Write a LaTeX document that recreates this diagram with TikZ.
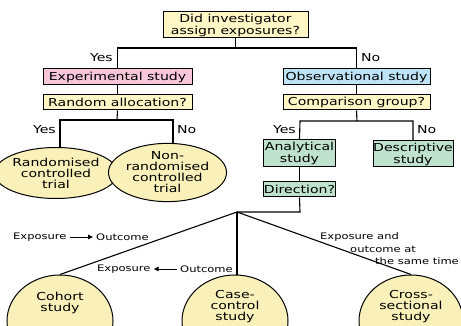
\documentclass[tikz,border=0pt]{standalone}
\usepackage{fontspec}
\setmainfont{DejaVu Sans}[FakeStretch=1.28]
\usetikzlibrary{shapes.geometric,arrows.meta}
\definecolor{boxyel}{HTML}{FFF8C6}
\definecolor{ellyel}{HTML}{F9F1B9}
\definecolor{boxpink}{HTML}{F7C6DA}
\definecolor{boxblue}{HTML}{BEE3F6}
\definecolor{boxgreen}{HTML}{BEE2CD}
\begin{document}
\begin{tikzpicture}[x=1pt,y=-1pt,
  box/.style={draw, line width=1pt, inner sep=0pt, align=center,
    font=\fontsize{11}{12}\selectfont},
  oval/.style={ellipse, draw, line width=1pt, fill=ellyel, inner sep=0pt,
    align=center, font=\fontsize{11}{11}\selectfont},
  lbl/.style={inner sep=0pt, font=\fontsize{11}{12}\selectfont},
  slbl/.style={inner sep=0pt, font=\fontsize{9}{12}\selectfont},
  conn/.style={line width=1.1pt},
  tip/.style={line width=0.9pt, shorten >=3pt, shorten <=3pt,
    -{Triangle[length=5pt,width=4.5pt]}}]
\useasboundingbox (0,0) rectangle (461,326);
\fill[white] (0,0) rectangle (461,326);

% boxes
\node[box, fill=boxyel, minimum width=145pt, minimum height=26pt] (q1) at (235.5,25)
  {Did investigator\\assign exposures?};
\node[box, fill=boxpink, minimum width=149pt, minimum height=16pt] (exp) at (117.5,77) {Experimental study};
\node[box, fill=boxblue, minimum width=147pt, minimum height=16pt] (obs) at (356.5,77) {Observational study};
\node[box, fill=boxyel, minimum width=149pt, minimum height=15pt] (rnd) at (117.5,102.5) {Random allocation?};
\node[box, fill=boxyel, minimum width=147pt, minimum height=15pt] (cmp) at (356.5,102.5) {Comparison group?};
\node[box, fill=boxgreen, minimum width=72pt, minimum height=27pt] (ana) at (299.5,153.5) {Analytical\\study};
\node[box, fill=boxgreen, minimum width=80pt, minimum height=26pt] (des) at (413,154) {Descriptive\\study};
\node[box, fill=boxgreen, minimum width=72pt, minimum height=15pt] (dir) at (299.5,189.5) {Direction?};

% ellipses
\node[oval, minimum width=95pt, minimum height=51pt] (rct) at (56,173) {Randomised\\controlled\\trial};
\node[oval, minimum width=93pt, minimum height=55pt] (nrct) at (167.5,172.5) {Non-\\randomised\\controlled\\trial};
\node[oval, minimum width=106pt, minimum height=92pt] (coh) at (60,321) {Cohort\\study\\[28pt]};
\node[oval, minimum width=106pt, minimum height=92pt] (cc) at (235,321) {Case-\\control\\study\\[20pt]};
\node[oval, minimum width=104pt, minimum height=92pt] (cs) at (411,321) {Cross-\\sectional\\study\\[20pt]};

% junctions
\coordinate (j1) at (235.5,48);
\coordinate (j2) at (117,120);
\coordinate (j2l) at (60,120);
\coordinate (j2r) at (173,120);
\coordinate (j3) at (357,121);
\coordinate (j3l) at (300,121);
\coordinate (j3r) at (413,121);
\coordinate (j4r) at (300,212);
\coordinate (j4) at (237,212);

% connectors
\draw[conn] (q1.south) -- (j1);
\draw[conn] (exp.north) |- (j1) -| (obs.north);
\draw[conn] (exp.south) -- (rnd.north);
\draw[conn] (obs.south) -- (cmp.north);
\draw[conn] (rnd.south) -- (j2);
\draw[conn] (j2l |- rct.north) -- (j2l) -- (j2r) -- (j2r |- nrct.north);
\draw[conn] (cmp.south) -- (j3);
\draw[conn] (ana.north) -- (j3l) -- (j3r) -- (des.north);
\draw[conn] (ana.south) -- (dir.north);
\draw[conn] (dir.south) -- (j4r) -- (j4);
\draw[conn] (j4) -- (coh.north);
\draw[conn] (j4) -- (j4 |- cc.north);
\draw[conn] (j4) -- (cs.north);

% branch labels
\node[lbl, anchor=east] (y1) at (113,58) {Yes};
\node[lbl, anchor=west] (n1) at (361,58) {No};
\node[lbl, anchor=east] (y2) at (56,130) {Yes};
\node[lbl, anchor=west] (n2) at (177,130) {No};
\node[lbl, anchor=east] (y3) at (296,130) {Yes};
\node[lbl, anchor=west] (n3) at (417,130) {No};

% direction labels
\node[slbl, anchor=west] (e1) at (13,237) {Exposure};
\node[slbl, anchor=west] (o1) at (96,237) {Outcome};
\draw[tip] (e1) -- (o1);
\node[slbl, anchor=west] (e2) at (97,269) {Exposure};
\node[slbl, anchor=west] (o2) at (180,269) {Outcome};
\draw[tip] (o2) -- (e2);
\node[slbl, anchor=west] (s1) at (320,237) {Exposure and};
\node[slbl, anchor=west] (s2) at (350,249) {outcome at};
\node[slbl, anchor=west] (s3) at (375,261) {the same time};
\end{tikzpicture}
\end{document}
